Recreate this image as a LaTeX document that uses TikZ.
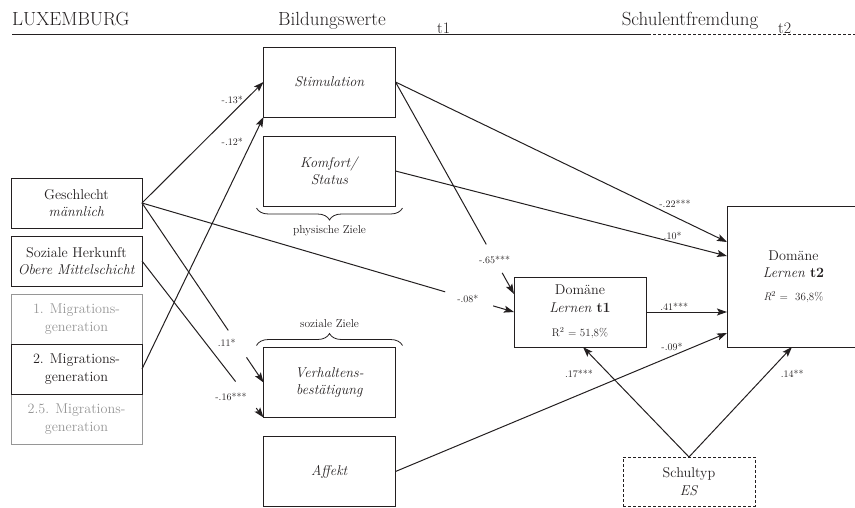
\documentclass[tikz,border=0pt]{standalone}
\usepackage{xcolor}
\usetikzlibrary{positioning,arrows.meta,decorations.pathreplacing}
\definecolor{ink}{RGB}{35,31,32}
\definecolor{grau}{RGB}{150,150,150}

\begin{document}
\begin{tikzpicture}[x=1pt, y=-1pt, color=ink,
        >={Stealth[length=10pt,width=7pt,inset=2pt]},
        kasten/.style={draw, rectangle, align=center, inner sep=1pt, outer sep=0pt,
            line width=0.8pt, minimum width=132pt, minimum height=70pt,
            font=\fontsize{14.2}{17.5}\selectfont},
        links/.style={kasten, minimum width=131pt, minimum height=50pt},
        grau kasten/.style={links, draw=grau, text=grau},
        pfeil/.style={->, line width=1pt},
        linie/.style={line width=1pt},
        koeff/.style={font=\fontsize{10}{12}\selectfont, inner sep=1pt},
        ziel/.style={font=\fontsize{11.5}{14}\selectfont, inner sep=1pt},
        klammer unten/.style={decorate, decoration={brace, mirror, amplitude=12pt}, line width=0.8pt},
        klammer oben/.style={decorate, decoration={brace, amplitude=12pt}, line width=0.8pt},
        kopf/.style={font=\fontsize{19}{22}\selectfont, inner sep=0pt, anchor=base}]

        \useasboundingbox (0,0) rectangle (855,507);

        % Kopfzeile
        \node[kopf, anchor=base west] (lux) at (12,25) {LUXEMBURG};
        \node[kopf] (bild) at (332,25) {Bildungswerte};
        \node[kopf, anchor=base west, font=\fontsize{16}{19}\selectfont] (zeitA) at (437,33) {t1};
        \node[kopf] (schul) at (690,25) {Schulentfremdung};
        \node[kopf, anchor=base west, font=\fontsize{16}{19}\selectfont] (zeitB) at (778,33) {t2};
        \draw[line width=0.8pt] (12,34) -- (648,34);
        \draw[line width=0.8pt, dash pattern=on 3pt off 2pt] (648,34) -- (855,34);

        % linke Seite
        \node[links] (gesch) at (76.5,203) {Geschlecht\\\textit{männlich}};
        \node[links, below=8pt of gesch] (soz) {Soziale Herkunft\\\textit{Obere Mittelschicht}};
        \node[grau kasten, below=8pt of soz] (migA) {1. Migrations-\\generation};
        \node[links, below=0pt of migA] (migB) {2. Migrations-\\generation};
        \node[grau kasten, below=0pt of migB] (migC) {2.5. Migrations-\\generation};
        \draw[line width=0.8pt] (migB.north west) rectangle (migB.south east);

        % Bildungswerte
        \node[kasten] (stim) at (329.5,82) {\textit{Stimulation}};
        \node[kasten, below=19pt of stim] (komf) {\textit{Komfort/}\\\textit{Status}};
        \node[kasten] (verh) at (329.5,382.5) {\textit{Verhaltens-}\\\textit{bestätigung}};
        \node[kasten, below=19pt of verh] (aff) {\textit{Affekt}};

        \draw[klammer unten] ([xshift=-7pt,yshift=-2pt]komf.south west) --
            node[ziel, below=16pt] (phys) {physische Ziele} ([xshift=7pt,yshift=-2pt]komf.south east);
        \draw[klammer oben] ([xshift=-7pt,yshift=2pt]verh.north west) --
            node[ziel, above=16pt] (sozz) {soziale Ziele} ([xshift=7pt,yshift=2pt]verh.north east);

        % Domaene und Schultyp
        \node[kasten] (lernA) at (580,312)
            {Domäne\\\textit{Lernen} \textbf{t1}\\[7pt]{\fontsize{11}{13}\selectfont R\textsuperscript{2} = 51,8\%}};
        \node[kasten, minimum width=133pt, minimum height=141pt] (lernB) at (793.5,276.5)
            {Domäne\\\textit{Lernen} \textbf{t2}\\[5pt]{\fontsize{11}{13}\selectfont\textit{R}\textsuperscript{2} =~ 36,8\%}};
        \node[kasten, minimum height=49pt, dash pattern=on 3pt off 2pt] (typ) at (689,481.5) {Schultyp\\\textit{ES}};

        % Pfade
        \draw[pfeil] (gesch.east) -- node[koeff, pos=0.85, left=1pt] {-.13*} (stim.west);
        \draw[pfeil] (migB.east) -- node[koeff, pos=0.9, left=7pt] {-.12*} (stim.south west);

        \path (gesch.east) -- coordinate[pos=0.815] (gA) coordinate[pos=0.944] (gB)
            node[koeff, pos=0.876] {-.08*} (lernA.west);
        \draw[linie] (gesch.east) -- (gA);
        \draw[pfeil] (gB) -- (lernA.west);

        \path (stim.east) -- coordinate[pos=0.766] (sA) coordinate[pos=0.9] (sB)
            node[koeff, pos=0.837] {-.65***} ([yshift=18pt]lernA.west);
        \draw[linie] (stim.east) -- (sA);
        \draw[pfeil] (sB) -- ([yshift=18pt]lernA.west);

        \path (gesch.east) -- coordinate[pos=0.71] (vA) coordinate[pos=0.86] (vB)
            node[koeff, pos=0.78, left=0pt] {.11*} (verh.west);
        \draw[linie] (gesch.east) -- (vA);
        \draw[pfeil] (vB) -- (verh.west);

        \path (soz.east) -- coordinate[pos=0.77] (hA) coordinate[pos=0.94] (hB)
            node[koeff, pos=0.87, left=0pt] {-.16***} (verh.south west);
        \draw[linie] (soz.east) -- (hA);
        \draw[pfeil] (hB) -- (verh.south west);

        \draw[pfeil] (stim.east) -- node[koeff, pos=0.843, above=8pt] {-.22***} ([yshift=34.5pt]lernB.west);
        \draw[pfeil] (komf.east) -- node[koeff, pos=0.836, above=1pt] {.10*} ([yshift=20.5pt]lernB.west);
        \draw[pfeil] (lernA.east) -- node[koeff, pos=0.35, above=0pt] {.41***} (lernA.east -| lernB.west);
        \draw[pfeil] (aff.east) -- node[koeff, pos=0.834, above=4pt] {-.09*} ([yshift=-56.5pt]lernB.west);
        \draw[pfeil] (typ.north) -- node[koeff, pos=0.76, left=14pt] {.17***} ([xshift=3pt]lernA.south);
        \draw[pfeil] (typ.north) -- node[koeff, pos=0.76, right=12pt] {.14**} ([xshift=-1.5pt]lernB.south);
    \end{tikzpicture}
\end{document}
